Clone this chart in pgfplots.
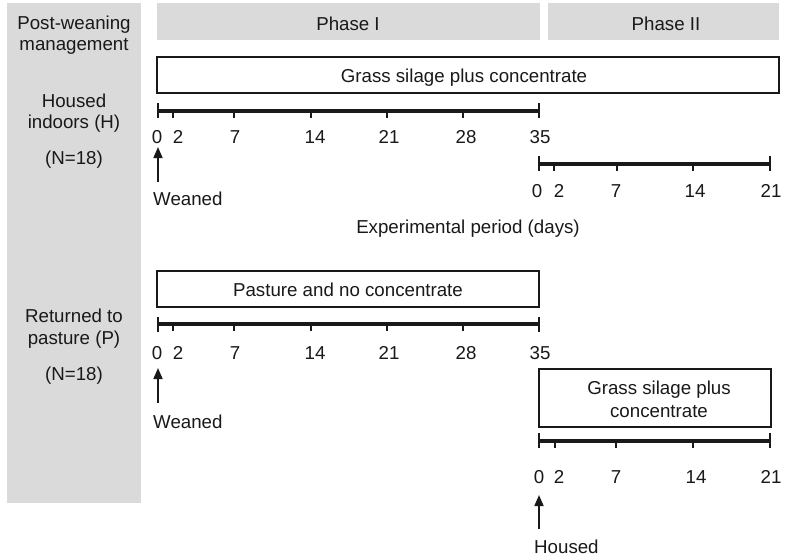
\documentclass[border=0pt]{standalone}
\usepackage{pgfplots}
\pgfplotsset{compat=1.18}
\usepackage{fontspec}
\setmainfont{Liberation Sans}
\usetikzlibrary{arrows.meta}
\definecolor{panel}{RGB}{218,218,218}
\definecolor{ink}{RGB}{25,25,25}
\begin{document}
\begin{tikzpicture}[txt/.style={font=\fontsize{18.7}{22}\selectfont,text=ink,inner sep=0pt,anchor=base}]
\begin{axis}[x=1pt,y=1pt,y dir=reverse,xmin=0,xmax=785,ymin=0,ymax=557,hide axis,clip=false,
  tl/.style={ink,line width=3.4pt,mark=none},
  cap/.style={ink,line width=2.6pt,mark=none},
  tk/.style={ink,line width=2.6pt,mark=none},
  bx/.style={ink,line width=1.8pt,fill=white,mark=none},
  arr/.style={ink,line width=1.7pt,mark=none,-{Triangle[width=9pt,length=11pt]}}]
% canvas
\addplot[draw=none,fill=white] coordinates {(0,0)(785,0)(785,557)(0,557)} -- cycle;
% grey panels
\addplot[draw=none,fill=panel] coordinates {(7,3)(141,3)(141,503)(7,503)} -- cycle;
\addplot[draw=none,fill=panel] coordinates {(157,3)(540,3)(540,40)(157,40)} -- cycle;
\addplot[draw=none,fill=panel] coordinates {(548,3)(779,3)(779,40)(548,40)} -- cycle;
% boxes
\addplot[bx] coordinates {(157,57)(779,57)(779,93)(157,93)} -- cycle;
\addplot[bx] coordinates {(157,271)(539,271)(539,307)(157,307)} -- cycle;
\addplot[bx] coordinates {(539,369)(771,369)(771,427)(539,427)} -- cycle;
% timeline H phase I
\addplot[tl] coordinates {(158,111)(539,111)};
\addplot[cap] coordinates {(158,103)(158,118)};
\addplot[cap] coordinates {(539,103)(539,118)};
\addplot[tk] coordinates {(173,111)(173,118)};
\addplot[tk] coordinates {(234,111)(234,118)};
\addplot[tk] coordinates {(311,111)(311,118)};
\addplot[tk] coordinates {(387,111)(387,118)};
\addplot[tk] coordinates {(463,111)(463,118)};
% timeline H phase II
\addplot[tl] coordinates {(539,164)(770,164)};
\addplot[cap] coordinates {(539,156)(539,171)};
\addplot[cap] coordinates {(770,156)(770,171)};
\addplot[tk] coordinates {(554,164)(554,171)};
\addplot[tk] coordinates {(617,164)(617,171)};
\addplot[tk] coordinates {(693,164)(693,171)};
% timeline P phase I
\addplot[tl] coordinates {(158,324)(539,324)};
\addplot[cap] coordinates {(158,317)(158,332)};
\addplot[cap] coordinates {(539,317)(539,332)};
\addplot[tk] coordinates {(173,324)(173,331)};
\addplot[tk] coordinates {(234,324)(234,331)};
\addplot[tk] coordinates {(311,324)(311,331)};
\addplot[tk] coordinates {(387,324)(387,331)};
\addplot[tk] coordinates {(463,324)(463,331)};
% timeline P phase II
\addplot[tl] coordinates {(539,441)(770,441)};
\addplot[cap] coordinates {(539,433)(539,448)};
\addplot[cap] coordinates {(770,433)(770,448)};
\addplot[tk] coordinates {(555,441)(555,448)};
\addplot[tk] coordinates {(616,441)(616,448)};
\addplot[tk] coordinates {(693,441)(693,448)};
% arrows
\addplot[arr] coordinates {(158,182)(158,147)};
\addplot[arr] coordinates {(158,403)(158,368)};
\addplot[arr] coordinates {(539,529)(539,495)};
% left panel text
\node[txt] at (axis cs:74,29) {Post-weaning};
\node[txt] at (axis cs:74,50) {management};
\node[txt] at (axis cs:74,107) {Housed};
\node[txt] at (axis cs:74,128) {indoors (H)};
\node[txt] at (axis cs:74,164) {(N=18)};
\node[txt] at (axis cs:74,322) {Returned to};
\node[txt] at (axis cs:74,344) {pasture (P)};
\node[txt] at (axis cs:74,380) {(N=18)};
% headers
\node[txt] at (axis cs:348,30) {Phase I};
\node[txt] at (axis cs:666,30) {Phase II};
% box texts
\node[txt] at (axis cs:464,82) {Grass silage plus concentrate};
\node[txt] at (axis cs:348,296) {Pasture and no concentrate};
\node[txt] at (axis cs:659,394) {Grass silage plus};
\node[txt] at (axis cs:659,417) {concentrate};
% tick labels H1
\node[txt] at (axis cs:157,143) {0};
\node[txt] at (axis cs:178,143) {2};
\node[txt] at (axis cs:235,143) {7};
\node[txt] at (axis cs:315,143) {14};
\node[txt] at (axis cs:389,143) {21};
\node[txt] at (axis cs:466,143) {28};
\node[txt] at (axis cs:540,143) {35};
% tick labels H2
\node[txt] at (axis cs:537,197) {0};
\node[txt] at (axis cs:559,197) {2};
\node[txt] at (axis cs:616,197) {7};
\node[txt] at (axis cs:695,197) {14};
\node[txt] at (axis cs:771,197) {21};
% tick labels P1
\node[txt] at (axis cs:157,359) {0};
\node[txt] at (axis cs:178,359) {2};
\node[txt] at (axis cs:235,359) {7};
\node[txt] at (axis cs:315,359) {14};
\node[txt] at (axis cs:389,359) {21};
\node[txt] at (axis cs:466,359) {28};
\node[txt] at (axis cs:540,359) {35};
% tick labels P2
\node[txt] at (axis cs:539,483) {0};
\node[txt] at (axis cs:559,483) {2};
\node[txt] at (axis cs:616,483) {7};
\node[txt] at (axis cs:696,483) {14};
\node[txt] at (axis cs:771,483) {21};
% other labels
\node[txt,anchor=base west] at (axis cs:153,205) {Weaned};
\node[txt,anchor=base west] at (axis cs:153,428) {Weaned};
\node[txt,anchor=base west] at (axis cs:534,553) {Housed};
\node[txt] at (axis cs:468,233) {Experimental period (days)};
\end{axis}
\end{tikzpicture}
\end{document}
